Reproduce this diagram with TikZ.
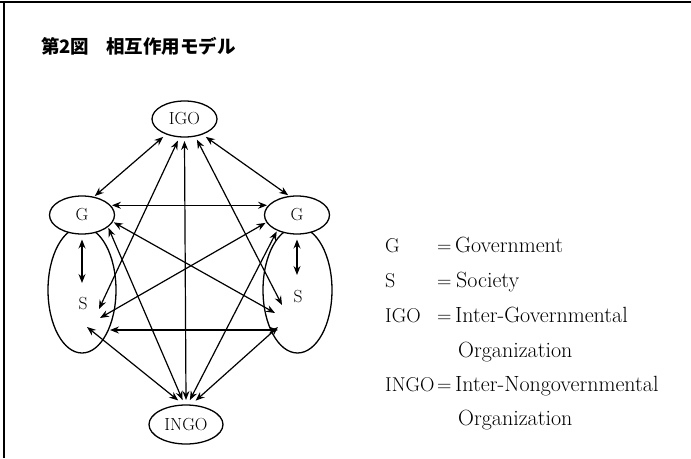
\documentclass[tikz,border=0pt]{standalone}
\usepackage{fontspec}
\newfontfamily\cjk{Noto Sans CJK JP}
\usetikzlibrary{shapes.geometric,arrows.meta}
\tikzset{
  ell/.style={draw, ellipse, line width=1.3pt, fill=white, inner sep=0pt, font=\fontsize{17.5}{20}\selectfont},
  lab/.style={inner sep=0pt, font=\fontsize{17.5}{20}\selectfont},
  arr/.style={line width=1.2pt, {Stealth[length=9pt,width=7pt,inset=3pt]}-{Stealth[length=9pt,width=7pt,inset=3pt]}},
  loopline/.style={line width=1.3pt},
  leg/.style={anchor=base west, inner sep=0pt, font=\fontsize{20}{23}\selectfont},
  legtext/.style={anchor=base west, inner sep=0pt, font=\fontsize{22}{24}\selectfont\addfontfeatures{LetterSpace=3.7}},
  frame/.style={line width=1.4pt}
}
\begin{document}
\begin{tikzpicture}[x=1pt,y=-1pt]
\useasboundingbox (0,0) rectangle (691,458);
% frame
\coordinate (f1) at (0,2);
\coordinate (f2) at (691,2);
\coordinate (f3) at (4,2);
\coordinate (f4) at (4,458);
\draw[frame] (f1) -- (f2);
\draw[frame] (f3) -- (f4);
% title
\node[anchor=west, inner sep=0pt, font=\cjk\bfseries\fontsize{18.5}{20}\selectfont] (title) at (41,46) {第2図\hspace{17pt}相互作用モデル};
% loops
\draw[loopline] (82,290) ellipse [x radius=34, y radius=63];
\draw[loopline] (297.5,290) ellipse [x radius=34.5, y radius=63];
% nodes
\node[ell, minimum width=65pt, minimum height=36pt, outer sep=4pt] (IGO) at (184.5,119) {IGO};
\node[ell, minimum width=65pt, minimum height=38pt, outer sep=1.5pt] (GL) at (82,215) {G};
\node[ell, minimum width=65pt, minimum height=38pt, outer sep=1.5pt] (GR) at (297,215) {G};
\node[ell, minimum width=74pt, minimum height=39pt, outer sep=5pt] (INGO) at (186,424.5) {INGO};
\node[lab] (SL) at (83,304) {S};
\node[lab] (SR) at (298,297) {S};
% connector ends near S
\coordinate (SLa) at (99,309);
\coordinate (SLb) at (100,318);
\coordinate (SLc) at (110,330);
\coordinate (SLd) at (87,327);
\coordinate (SLe) at (82,283);
\coordinate (SRa) at (282,305);
\coordinate (SRb) at (275,313);
\coordinate (SRc) at (278,330);
\coordinate (SRd) at (278,327);
\coordinate (SRe) at (297,275);
% connectors
\draw[arr] (IGO.-140) -- (GL.56);
\draw[arr] (IGO.-40) -- (GR.114);
\draw[arr] (GL.18) -- (GR.162);
\draw[arr] (IGO.-107) -- (SLa);
\draw[arr] (IGO.-90) -- (INGO.90);
\draw[arr] (IGO.-59) -- (SRa);
\draw[arr] (GL.-26) -- (INGO.98);
\draw[arr] (GR.-141) -- (INGO.81);
\draw[arr] (GL.-13) -- (SRb);
\draw[arr] (GR.-166) -- (SLb);
\draw[arr] (SLc) -- (SRc);
\draw[arr] (SLd) -- (INGO.108);
\draw[arr] (SRd) -- (INGO.68);
\draw[arr, shorten <=4pt] (GL.south) -- (SLe);
\draw[arr, shorten <=4pt] (GR.south) -- (SRe);
% legend
\node[leg] (l1a) at (385,252) {G};
\node[leg] (l1b) at (437,252) {=};
\node[legtext] (l1c) at (455,252) {Government};
\node[leg] (l2a) at (385,287) {S};
\node[leg] (l2b) at (437,287) {=};
\node[legtext] (l2c) at (456,287) {Society};
\node[leg] (l3a) at (385,322) {IGO};
\node[leg] (l3b) at (437,322) {=};
\node[legtext] (l3c) at (455,322) {Inter-Governmental};
\node[legtext] (l4c) at (458,357) {Organization};
\node[leg] (l5a) at (385,391) {INGO};
\node[leg] (l5b) at (437,391) {=};
\node[legtext] (l5c) at (455,391) {Inter-Nongovernmental};
\node[legtext] (l6c) at (458,425) {Organization};
\end{tikzpicture}
\end{document}
